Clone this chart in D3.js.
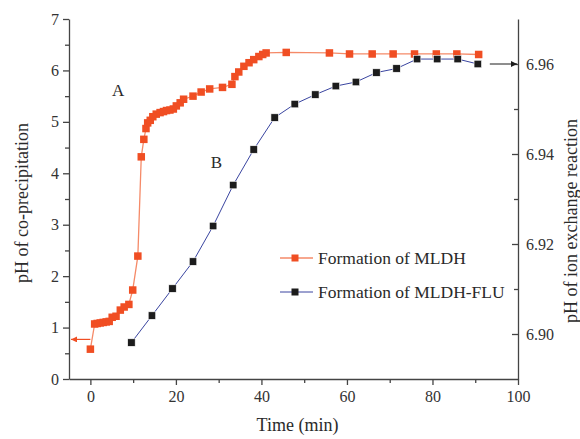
<!DOCTYPE html>
<meta charset="utf-8">
<style>
  body { margin: 0; background: #fff; }
  text { font-family: "Liberation Serif", "DejaVu Serif", serif; fill: #2a2a2a; }
  .axis path, .axis line { stroke: #444; stroke-width: 1.3; }
  .axis text { font-size: 16px; fill: #333; }
</style>
<body>
<script src="https://cdnjs.cloudflare.com/ajax/libs/d3/7.8.5/d3.min.js"></script>
<script>

// curve A: co-precipitation (left axis)
var timeA = [0, 1.0, 1.6, 2.3, 3.0, 3.7, 4.4, 5.1, 6.0, 7.0, 7.9, 9.0, 9.9, 11.1,
  11.9, 12.5, 13.0, 13.4, 14.0, 14.6, 15.4, 16.3, 17.1, 17.8, 18.6, 19.4, 20.1,
  21.0, 21.8, 24.0, 25.9, 27.9, 30.9, 33.1, 33.8, 34.7, 35.9, 37.1, 38.2, 39.4,
  40.3, 41.1, 45.8, 55.9, 60.6, 65.9, 70.8, 75.8, 80.9, 85.7, 90.8];
var phA = [0.58, 1.07, 1.08, 1.09, 1.10, 1.11, 1.12, 1.20, 1.22, 1.34, 1.40, 1.45, 1.73, 2.39,
  4.32, 4.66, 4.87, 4.98, 5.03, 5.10, 5.15, 5.18, 5.20, 5.22, 5.23, 5.25, 5.31,
  5.37, 5.44, 5.50, 5.58, 5.64, 5.67, 5.73, 5.88, 5.97, 6.08, 6.15, 6.21, 6.27,
  6.31, 6.34, 6.35, 6.34, 6.32, 6.32, 6.32, 6.32, 6.32, 6.32, 6.31];

// curve B: ion exchange reaction (right axis)
var timeB = [9.6, 14.4, 19.2, 24.0, 28.7, 33.4, 38.2, 43.1, 47.8, 52.6, 57.4, 62.1, 66.9, 71.6, 76.4, 81.1, 85.9, 90.6];
var phB = [6.8981, 6.9041, 6.9101, 6.9161, 6.9240, 6.9331, 6.9410, 6.9481, 6.9511, 6.9532,
  6.9551, 6.9560, 6.9581, 6.9590, 6.9611, 6.9611, 6.9611, 6.9600];

var xTicks = [0, 20, 40, 60, 80, 100];
var leftTicks = [0, 1, 2, 3, 4, 5, 6, 7];
var rightTicks = [6.90, 6.92, 6.94, 6.96];
var seriesNames = ["Formation of MLDH", "Formation of MLDH-FLU"];

var width = 580, height = 439;
var margin = {top: 19, right: 62, bottom: 60, left: 69};

var orange = "#f04e23", orangeLine = "#f58a68", navy = "#3a45a0", black = "#1c1c1c";

var svg = d3.select("body").append("svg")
    .attr("width", width)
    .attr("height", height);

var x = d3.scaleLinear().domain([-5, 100]).range([margin.left, width - margin.right]);
var yL = d3.scaleLinear().domain([0, 7]).range([height - margin.bottom, margin.top]);
var yR = d3.scaleLinear().domain([6.89, 6.97]).range([height - margin.bottom, margin.top]);

svg.append("defs").selectAll("marker")
  .data([["arrO", orange], ["arrK", black]])
  .enter().append("marker")
    .attr("id", function(d) { return d[0]; })
    .attr("viewBox", "0 0 10 10")
    .attr("refX", 10).attr("refY", 5)
    .attr("markerWidth", 9).attr("markerHeight", 6)
    .attr("markerUnits", "userSpaceOnUse")
    .attr("orient", "auto")
  .append("path")
    .attr("d", "M0,0L10,5L0,10z")
    .attr("fill", function(d) { return d[1]; });

// axes
svg.append("g").attr("class", "axis")
    .attr("transform", "translate(0," + (height - margin.bottom) + ")")
    .call(d3.axisBottom(x).tickValues(xTicks).tickFormat(d3.format("d")).tickSize(6).tickPadding(6).tickSizeOuter(0));
svg.append("g").attr("class", "axis")
    .attr("transform", "translate(0," + (height - margin.bottom) + ")")
    .call(d3.axisBottom(x).tickValues(d3.range(10, 100, 20)).tickSize(4).tickFormat("").tickSizeOuter(0))
    .select(".domain").remove();

svg.append("g").attr("class", "axis")
    .attr("transform", "translate(" + margin.left + ",0)")
    .call(d3.axisLeft(yL).tickValues(leftTicks).tickFormat(d3.format("d")).tickSize(6).tickPadding(4).tickSizeOuter(0));
svg.append("g").attr("class", "axis")
    .attr("transform", "translate(" + margin.left + ",0)")
    .call(d3.axisLeft(yL).tickValues(d3.range(0.5, 7, 1)).tickSize(4).tickFormat("").tickSizeOuter(0))
    .select(".domain").remove();

var right = svg.append("g").attr("class", "axis")
    .attr("transform", "translate(" + (width - margin.right) + ",0)")
    .call(d3.axisRight(yR).tickValues(rightTicks).tickFormat(d3.format(".2f")).tickSize(0).tickPadding(8).tickSizeOuter(0));
right.selectAll(".tick line").attr("x2", -6);
svg.append("g").attr("class", "axis")
    .attr("transform", "translate(" + (width - margin.right) + ",0)")
    .call(d3.axisRight(yR).tickValues([6.91, 6.93, 6.95]).tickSize(0).tickFormat("").tickSizeOuter(0))
    .call(function(g) { g.select(".domain").remove(); g.selectAll(".tick line").attr("x2", -4); });

// axis titles
svg.append("text")
    .attr("x", (margin.left + width - margin.right) / 2 + 4)
    .attr("y", 431)
    .attr("text-anchor", "middle")
    .style("font-size", "18px")
    .text("Time (min)");
svg.append("text")
    .attr("transform", "translate(28," + (margin.top + (height - margin.bottom - margin.top) / 2 + 4) + ") rotate(-90)")
    .attr("text-anchor", "middle")
    .style("font-size", "18px")
    .text("pH of co-precipitation");
svg.append("text")
    .attr("transform", "translate(577," + (margin.top + (height - margin.bottom - margin.top) / 2 + 22) + ") rotate(-90)")
    .attr("text-anchor", "middle")
    .style("font-size", "18px")
    .text("pH of ion exchange reaction");

var dataA = timeA.map(function(t, i) { return [t, phA[i]]; });
var dataB = timeB.map(function(t, i) { return [t, phB[i]]; });

svg.append("path")
    .datum(dataA)
    .attr("fill", "none")
    .attr("stroke", orangeLine)
    .attr("stroke-width", 1.3)
    .attr("d", d3.line().x(function(d) { return x(d[0]); }).y(function(d) { return yL(d[1]); }));

svg.append("path")
    .datum(dataB)
    .attr("fill", "none")
    .attr("stroke", navy)
    .attr("stroke-width", 1)
    .attr("d", d3.line().x(function(d) { return x(d[0]); }).y(function(d) { return yR(d[1]); }));

var s = 7.5;
svg.append("g").selectAll("rect")
    .data(dataA).enter().append("rect")
    .attr("x", function(d) { return x(d[0]) - s / 2; })
    .attr("y", function(d) { return yL(d[1]) - s / 2; })
    .attr("width", s).attr("height", s)
    .attr("fill", orange);

svg.append("g").selectAll("rect")
    .data(dataB).enter().append("rect")
    .attr("x", function(d) { return x(d[0]) - s / 2; })
    .attr("y", function(d) { return yR(d[1]) - s / 2; })
    .attr("width", s).attr("height", s)
    .attr("fill", black)
    .attr("stroke", "#fff").attr("stroke-width", 0.6);

// arrows to the axes
svg.append("line")
    .attr("x1", x(0)).attr("x2", margin.left + 2)
    .attr("y1", yL(0.77)).attr("y2", yL(0.77))
    .attr("stroke", orange).attr("stroke-width", 1.2)
    .attr("marker-end", "url(#arrO)");
svg.append("line")
    .attr("x1", x(timeB[timeB.length - 1]) + 12).attr("x2", width - margin.right - 1)
    .attr("y1", yR(6.9600)).attr("y2", yR(6.9600))
    .attr("stroke", black).attr("stroke-width", 1)
    .attr("marker-end", "url(#arrK)");

// curve labels
svg.append("text").attr("x", x(6.5)).attr("y", yL(5.5)).attr("text-anchor", "middle")
    .style("font-size", "17px").text("A");
svg.append("text").attr("x", x(29.5)).attr("y", yL(4.1)).attr("text-anchor", "middle")
    .style("font-size", "17px").text("B");

// legend
var legend = svg.append("g").attr("transform", "translate(280,258)");
var lg = legend.selectAll("g")
    .data(seriesNames).enter().append("g")
    .attr("transform", function(d, i) { return "translate(0," + (i * 34) + ")"; });
lg.append("line")
    .attr("x1", 0).attr("x2", 33).attr("y1", 0).attr("y2", 0)
    .attr("stroke", function(d, i) { return i ? navy : orangeLine; })
    .attr("stroke-width", function(d, i) { return i ? 1 : 1.3; });
lg.append("rect")
    .attr("x", 15 - 3.5).attr("y", -3.5).attr("width", 7).attr("height", 7)
    .attr("fill", function(d, i) { return i ? black : orange; });
lg.append("text")
    .attr("x", 38).attr("y", 6)
    .style("font-size", "17.5px")
    .text(function(d) { return d; });

</script>
</body>
</html>
